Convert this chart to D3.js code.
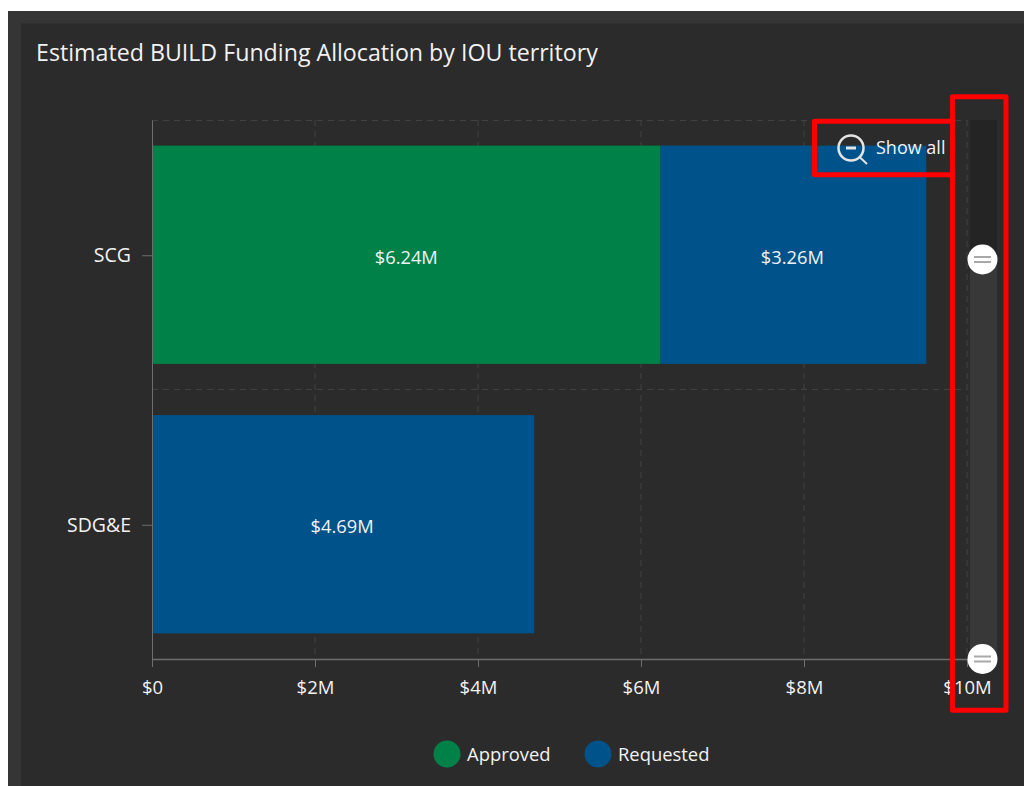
<!DOCTYPE html>
<html>
<head>
  <title>Estimated BUILD Funding Allocation</title>
  <script src="https://cdnjs.cloudflare.com/ajax/libs/d3/7.8.5/d3.min.js"></script>
  <style>
    html, body { margin: 0; padding: 0; background: #fff; overflow: hidden; }
    svg { display: block; font-family: "Open Sans", "Noto Sans", sans-serif; }
  </style>
</head>
<body>
<script>
  const territories = ["SCG", "SDG&E"];
  const approved = [6.24, 0];
  const requested = [3.26, 4.69];
  const xTicks = [0, 2, 4, 6, 8, 10];
  const xTickLabels = ["$0", "$2M", "$4M", "$6M", "$8M", "$10M"];
  const legendNames = ["Approved", "Requested"];
  const legendColors = ["#008148", "#00538a"];

  const w = 1024, h = 786;
  const plotLeft = 152, plotRight = 967, plotTop = 120, plotBottom = 659;
  const labelFont = "Open Sans, sans-serif";

  const svg = d3.select("body").append("svg").attr("width", w).attr("height", h);

  // panel
  svg.append("rect").attr("x", 8).attr("y", 11).attr("width", w - 8).attr("height", h - 11).attr("fill", "#353535");
  svg.append("rect").attr("x", 21).attr("y", 23.5).attr("width", w - 21).attr("height", h - 23).attr("fill", "#2b2b2b");

  svg.append("text").attr("x", 36).attr("y", 61).attr("fill", "#f2f2f2")
    .attr("font-size", 23.2).text("Estimated BUILD Funding Allocation by IOU territory");

  const xScale = d3.scaleLinear().domain([0, 10]).range([plotLeft, plotRight]);
  const yScale = d3.scaleBand().domain(territories).range([plotTop, plotBottom]).paddingInner(0.19).paddingOuter(0.095);

  // dashed grid
  const grid = svg.append("g").attr("stroke", "#424242").attr("stroke-dasharray", "6 5").attr("fill", "none");
  xTicks.slice(1).forEach((t) => {
    grid.append("line").attr("x1", xScale(t)).attr("x2", xScale(t)).attr("y1", plotTop).attr("y2", plotBottom);
  });
  grid.append("line").attr("x1", plotLeft).attr("x2", plotRight).attr("y1", plotTop + 0.5).attr("y2", plotTop + 0.5);
  grid.append("line").attr("x1", plotLeft).attr("x2", plotRight)
    .attr("y1", (plotTop + plotBottom) / 2).attr("y2", (plotTop + plotBottom) / 2);

  // bars
  const bars = svg.append("g");
  territories.forEach((t, i) => {
    if (approved[i] > 0) {
      bars.append("rect").attr("x", xScale(0)).attr("y", yScale(t))
        .attr("width", xScale(approved[i]) - xScale(0)).attr("height", yScale.bandwidth())
        .attr("fill", legendColors[0]);
      bars.append("text").attr("x", xScale(approved[i] / 2)).attr("y", yScale(t) + yScale.bandwidth() / 2 + 9)
        .attr("text-anchor", "middle").attr("fill", "#f2f2f2").attr("font-size", 18.3)
        .text("$" + approved[i].toFixed(2) + "M");
    }
    bars.append("rect").attr("x", xScale(approved[i])).attr("y", yScale(t))
      .attr("width", xScale(requested[i]) - xScale(0)).attr("height", yScale.bandwidth())
      .attr("fill", legendColors[1]);
    bars.append("text").attr("x", xScale(approved[i] + requested[i] / 2) - 1).attr("y", yScale(t) + yScale.bandwidth() / 2 + 9)
      .attr("text-anchor", "middle").attr("fill", "#f2f2f2").attr("font-size", 18.3)
      .text("$" + requested[i].toFixed(2) + "M");
  });

  // axes
  const xAxis = d3.axisBottom(xScale).tickValues(xTicks).tickFormat((d, i) => xTickLabels[i]).tickSize(8).tickSizeOuter(0).tickPadding(14);
  const yAxis = d3.axisLeft(yScale).tickSize(10).tickSizeOuter(0).tickPadding(11);

  const gx = svg.append("g").attr("transform", "translate(0," + plotBottom + ")").call(xAxis);
  const gy = svg.append("g").attr("transform", "translate(" + plotLeft + ",0)").call(yAxis);
  [gx, gy].forEach((g) => {
    g.selectAll("path, line").attr("stroke", "#6e6e6e");
    g.selectAll("text").attr("fill", "#f2f2f2").attr("font-size", 18.5).attr("font-family", labelFont);
  });
  gy.selectAll("text").attr("font-size", 19.5);
  gx.select(".domain").attr("stroke-width", 1.5);
  gy.selectAll(".tick").attr("transform", function () {
    return d3.select(this).attr("transform").replace(/,([\d.]+)\)/, (m, y) => "," + (+y + 1) + ")");
  });

  // zoom slider
  const slider = svg.append("g");
  slider.append("rect").attr("x", 970).attr("y", 120).attr("width", 27).attr("height", 140).attr("fill", "#242424");
  slider.append("rect").attr("x", 970).attr("y", 260).attr("width", 27).attr("height", 399).attr("fill", "#383838");
  [259.5, 659].forEach((cy) => {
    slider.append("circle").attr("cx", 982.5).attr("cy", cy).attr("r", 15).attr("fill", "#fff");
    slider.append("line").attr("x1", 974).attr("x2", 991).attr("y1", cy - 2.5).attr("y2", cy - 2.5).attr("stroke", "#a8a8a8").attr("stroke-width", 2);
    slider.append("line").attr("x1", 974).attr("x2", 991).attr("y1", cy + 2.5).attr("y2", cy + 2.5).attr("stroke", "#a8a8a8").attr("stroke-width", 2);
  });

  // show all button
  const btn = svg.append("g").attr("fill", "none").attr("stroke", "#e4e4e4");
  btn.append("circle").attr("cx", 851).attr("cy", 148).attr("r", 12.5).attr("stroke-width", 2.5);
  btn.append("line").attr("x1", 846).attr("x2", 856).attr("y1", 148).attr("y2", 148).attr("stroke-width", 3);
  btn.append("line").attr("x1", 859.5).attr("x2", 867).attr("y1", 157).attr("y2", 164).attr("stroke-width", 2);
  svg.append("text").attr("x", 876).attr("y", 154).attr("fill", "#f2f2f2").attr("font-size", 18).text("Show all");

  // red annotation boxes
  const marks = svg.append("g").attr("fill", "none").attr("stroke", "#ff0000").attr("stroke-width", 5).attr("stroke-linejoin", "round");
  marks.append("rect").attr("x", 814.5).attr("y", 121.2).attr("width", 138).attr("height", 53.6);
  marks.append("rect").attr("x", 952.5).attr("y", 96.8).attr("width", 53.5).attr("height", 613.4);

  // legend
  const legendX = [447, 598];
  legendNames.forEach((name, i) => {
    svg.append("circle").attr("cx", legendX[i]).attr("cy", 754).attr("r", 13.5).attr("fill", legendColors[i]);
    svg.append("text").attr("x", legendX[i] + 20).attr("y", 761).attr("fill", "#f2f2f2").attr("font-size", 18.4).text(name);
  });
</script>
</body>
</html>
